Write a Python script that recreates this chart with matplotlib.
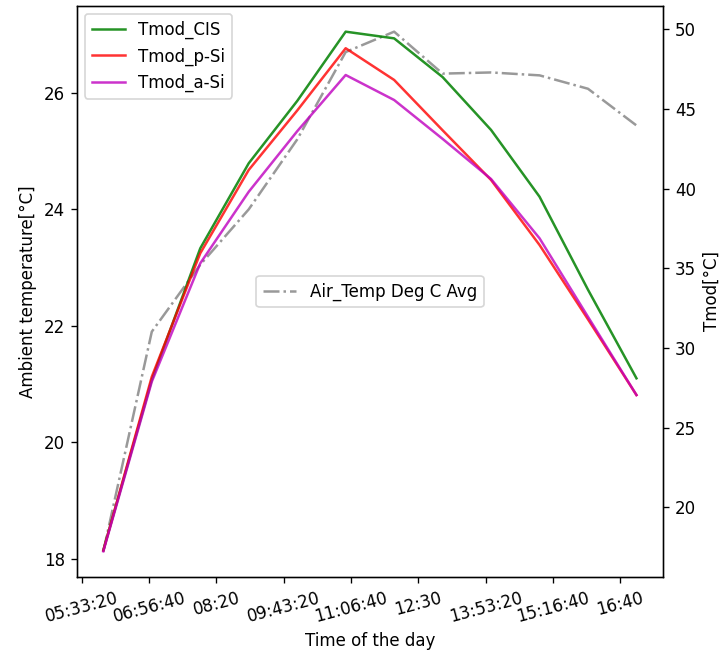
import matplotlib
matplotlib.use("Agg")
import matplotlib.pyplot as plt
from matplotlib.ticker import FuncFormatter, MultipleLocator

# hourly averages, 06:00 .. 17:00
times = ["06:00", "07:00", "08:00", "09:00", "10:00", "11:00",
         "12:00", "13:00", "14:00", "15:00", "16:00", "17:00"]

air_temp = [18.13, 21.90, 23.05, 24.00, 25.20, 26.70,
            27.05, 26.33, 26.35, 26.30, 26.07, 25.44]

tmod_cis = [17.30, 28.00, 36.25, 41.59, 45.50, 49.85,
            49.43, 47.00, 43.68, 39.49, 33.65, 28.09]
tmod_psi = [17.28, 28.19, 35.94, 41.17, 44.90, 48.81,
            46.82, 43.66, 40.54, 36.46, 31.79, 27.04]
tmod_asi = [17.23, 27.88, 35.31, 39.80, 43.60, 47.13,
            45.56, 43.12, 40.60, 36.88, 31.95, 27.04]


def to_seconds(t):
    h, m = t.split(":")
    return int(h) * 3600 + int(m) * 60


def fmt_time(x, pos=None):
    s = int(round(x))
    h, rem = divmod(s, 3600)
    m, sec = divmod(rem, 60)
    if sec:
        return f"{h:02d}:{m:02d}:{sec:02d}"
    return f"{h:02d}:{m:02d}"


x = [to_seconds(t) for t in times]

fig, ax = plt.subplots(figsize=(6.0, 5.45), dpi=120)
fig.subplots_adjust(left=0.1065, right=0.921, bottom=0.1173, top=0.9913)

ax.plot(x, air_temp, color="grey", alpha=0.8, linestyle="-.",
        label="Air_Temp Deg C Avg")
ax.set_ylabel("Ambient temperature[°C]")
ax.set_xlabel("Time of the day")
ax.legend(loc="center")

ax2 = ax.twinx()
ax2.plot(x, tmod_cis, color="g", alpha=0.85, label="Tmod_CIS")
ax2.plot(x, tmod_psi, color="r", alpha=0.8, label="Tmod_p-Si")
ax2.plot(x, tmod_asi, color="m", alpha=0.8, label="Tmod_a-Si")
ax2.set_ylabel("Tmod[°C]")
ax2.legend(loc="upper left")

ax.xaxis.set_major_locator(MultipleLocator(5000))
ax.xaxis.set_major_formatter(FuncFormatter(fmt_time))
for lbl in ax.get_xticklabels():
    lbl.set_rotation(15)

fig.savefig("out.png", dpi=120)
